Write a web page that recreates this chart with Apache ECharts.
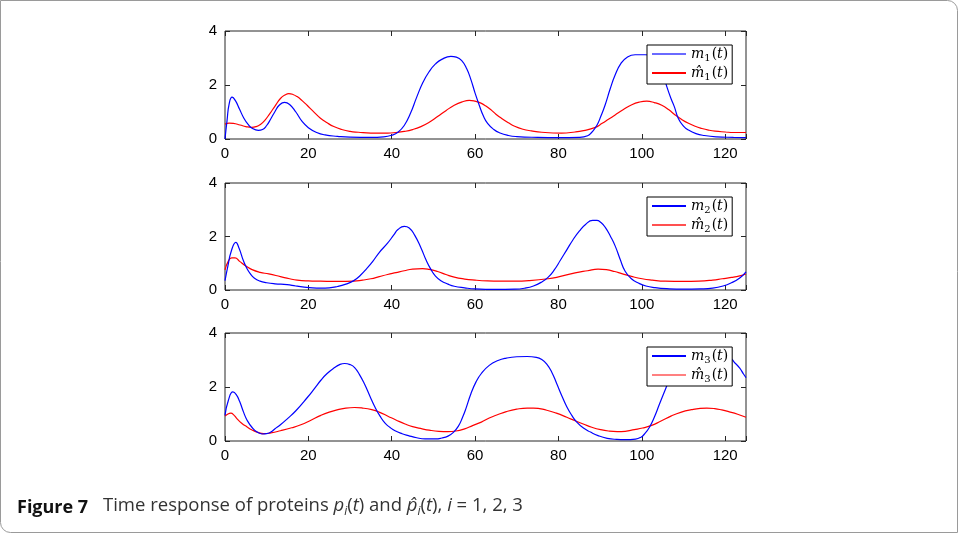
<!DOCTYPE html>
<html><head><meta charset="utf-8">
<script src="https://cdn.jsdelivr.net/npm/echarts@6/dist/echarts.min.js"></script>
<style>html,body{margin:0;padding:0;background:#fff}#c{width:958px;height:533px}</style>
</head><body><div id="c"></div>
<script>
// ---------- data ----------
const xTicks = [0, 20, 40, 60, 80, 100, 120];
const yTicks = [0, 2, 4];

const t_m1 = [0,0.5,1,1.7,2.5,3.5,4.5,5.5,6.5,8,9,10,11,12,13,14.3,15.5,17,18.5,20,22,24,27,30,35,38,40,41.5,43,44.5,46,47.5,49,50.5,52,54.2,55.5,56.8,58,59,60,61,62,63,64.5,66,68,70,75,80,85,87,88,89.2,90.2,91.2,92.4,93.6,95,96.5,98.4,100.8,102.5,103.8,105,106,107,107.8,108.8,110,111.2,113,115,118,122,125];
const m1   = [0,0.7,1.3,1.55,1.42,1.1,0.78,0.55,0.4,0.32,0.35,0.5,0.75,1.02,1.25,1.36,1.28,1.0,0.65,0.42,0.24,0.15,0.1,0.07,0.06,0.08,0.14,0.25,0.5,0.95,1.55,2.1,2.5,2.78,2.95,3.06,3.03,2.9,2.6,2.2,1.7,1.25,0.85,0.58,0.35,0.22,0.13,0.09,0.06,0.05,0.06,0.12,0.25,0.5,0.85,1.26,1.85,2.37,2.8,3.03,3.12,3.12,3.08,2.9,2.45,1.94,1.5,1.2,0.75,0.48,0.33,0.2,0.13,0.08,0.06,0.05];

const t_mh1 = [0,1,2,3.6,5,6.4,7.5,8.5,9.5,10.8,12,13.3,14.5,15.3,16.3,17.3,18.5,19.7,21,22.9,24.5,26.1,28,30,32,35,39,41,43,45,47,49,51,53,55,57,58.6,60,61.4,62.6,63.9,65,66.3,68,69.5,71.5,73.5,76,80.7,84,86,88.7,90.5,92,93.6,95.5,97.6,99.5,101.2,103,104.8,106.5,108,109.5,111.2,112.8,114.4,116,117.6,120,122,125];
const mh1   = [0.55,0.59,0.58,0.52,0.46,0.43,0.46,0.54,0.68,0.95,1.22,1.5,1.64,1.68,1.65,1.57,1.42,1.25,1.05,0.77,0.6,0.46,0.35,0.28,0.25,0.22,0.22,0.24,0.28,0.35,0.46,0.62,0.83,1.05,1.25,1.38,1.43,1.4,1.33,1.22,1.07,0.92,0.77,0.6,0.47,0.36,0.3,0.25,0.22,0.26,0.31,0.42,0.58,0.73,0.89,1.08,1.27,1.37,1.4,1.35,1.25,1.08,0.89,0.73,0.58,0.47,0.39,0.33,0.29,0.26,0.24,0.24];

const t_m2 = [0,0.7,1.5,2.6,3.4,4.4,5.2,6,7,8.4,10,12,14.9,17,19,21,23,25,27,29,30.9,32.5,34,35.5,37,39,40.5,41.5,43,44.2,45.5,47,48.3,49.4,50.5,51.8,53.5,55,57.5,60,65,69.5,72,74,76,77.5,79,80.5,82,83.5,85,86.5,88.2,89.2,90.2,91.2,92.5,93.6,94.8,96,97.5,99.3,101,103.2,106,110,114,117,119.5,121.5,123.5,125];
const m2   = [0.35,0.9,1.45,1.78,1.55,1.1,0.82,0.62,0.45,0.33,0.27,0.23,0.2,0.15,0.11,0.08,0.07,0.08,0.13,0.22,0.35,0.55,0.8,1.08,1.4,1.75,2.06,2.26,2.38,2.32,2.05,1.58,1.1,0.77,0.52,0.35,0.22,0.14,0.08,0.04,0.02,0.03,0.07,0.15,0.3,0.47,0.75,1.12,1.5,1.88,2.2,2.45,2.6,2.6,2.52,2.35,2.0,1.65,1.15,0.7,0.42,0.25,0.15,0.09,0.05,0.03,0.04,0.07,0.15,0.27,0.45,0.68];

const t_mh2 = [0,0.8,1.6,2.4,3.5,5.2,6.5,8.4,10.5,13.3,15.5,17.3,20,22.9,27,30.9,33,35,37,39,41,43,45,47.4,49,51,53,55,57.5,60,63,66,69.5,73,77.5,80,84,87,89.5,91.5,93.5,95.2,97.5,100.1,102.5,105.6,110,113.7,117,119.3,121.5,123.5,125];
const mh2   = [0.75,1.08,1.2,1.2,1.07,0.88,0.76,0.66,0.6,0.5,0.42,0.37,0.34,0.33,0.32,0.33,0.37,0.42,0.5,0.58,0.65,0.72,0.78,0.8,0.77,0.69,0.58,0.48,0.41,0.37,0.34,0.33,0.33,0.35,0.42,0.49,0.64,0.72,0.78,0.76,0.69,0.61,0.51,0.42,0.37,0.33,0.32,0.33,0.37,0.42,0.47,0.53,0.6];

const t_m3 = [0,0.8,1.9,2.7,3.5,4.5,5.3,6.5,7.7,9,10,11,12,13.3,15,17,19.8,21.5,23,24.5,26.3,27.5,28.7,30,31.1,32.3,33.5,34.8,36,37.2,38.4,39.6,40.8,42.5,44,46,48,50.5,52,53.5,54.8,56,57,57.8,59,60.2,61.5,63.4,65.5,67.5,70,72.5,74.7,76,77.2,78.4,79.6,80.8,82,83.2,84.4,86,87.7,89.5,91.7,94,96,98.5,99.8,100.6,101.8,103,104.2,105.5,106.7,108,110,112.5,115,118,120.8,122.4,123.5,124.4,125];
const m3   = [0.95,1.5,1.82,1.72,1.47,1.05,0.77,0.5,0.33,0.26,0.27,0.33,0.45,0.6,0.83,1.12,1.62,1.95,2.25,2.5,2.72,2.83,2.87,2.83,2.72,2.45,2.1,1.65,1.25,0.92,0.66,0.5,0.38,0.27,0.2,0.12,0.08,0.08,0.11,0.18,0.32,0.55,0.88,1.2,1.75,2.18,2.5,2.8,2.98,3.07,3.12,3.13,3.1,3.02,2.85,2.55,2.12,1.68,1.27,0.95,0.7,0.48,0.33,0.2,0.1,0.06,0.05,0.07,0.14,0.25,0.5,0.88,1.35,1.85,2.3,2.65,2.92,3.06,3.11,3.12,3.1,2.88,2.7,2.48,2.35];

const t_mh3 = [0,0.7,1.4,2.2,2.8,4,5.3,6.5,7.7,9.3,11,13.3,16,18.2,20.5,23,25,27.1,29,31.1,33,35.2,37,39.2,41,43.2,45,47.3,49,51.3,53.5,55.4,57.5,59.4,61.5,63.4,65.5,67.5,70,72.5,74,77.2,79.5,82,84,86.1,88,90.1,92,94.1,96,98.2,100.2,102.2,104.5,107.1,109.5,111.9,114,115.6,117.5,119.2,121,123,125];
const mh3   = [0.92,1.0,1.03,0.95,0.84,0.66,0.52,0.41,0.33,0.27,0.3,0.38,0.49,0.6,0.76,0.95,1.07,1.16,1.22,1.24,1.22,1.16,1.07,0.91,0.78,0.63,0.53,0.45,0.4,0.36,0.35,0.37,0.45,0.57,0.7,0.85,0.98,1.09,1.18,1.22,1.22,1.14,1.03,0.88,0.75,0.62,0.51,0.42,0.37,0.35,0.36,0.42,0.48,0.57,0.73,0.93,1.07,1.16,1.21,1.22,1.2,1.15,1.08,0.99,0.88];

const panels = [
  {blue: [t_m1, m1], red: [t_mh1, mh1], idx: '1', legBlue: '#6a6aff', legRed: '#ff0000'},
  {blue: [t_m2, m2], red: [t_mh2, mh2], idx: '2', legBlue: '#0000ff', legRed: '#ff5050'},
  {blue: [t_m3, m3], red: [t_mh3, mh3], idx: '3', legBlue: '#0000ff', legRed: '#ff8080'}
];

// ---------- layout ----------
const gridTops = [31, 183, 333];
const gridH = [108, 107, 108];
const gLeft = 225, gWidth = 521;
const axisColor = '#262626';
const labelFont = 'Liberation Sans';
const mathFont = 'DejaVu Serif';

const zip = (a, b) => a.map((v, i) => [v, b[i]]);

const grid = [], xAxis = [], yAxis = [], series = [], legend = [];
panels.forEach((p, k) => {
  grid.push({left: gLeft, width: gWidth, top: gridTops[k], height: gridH[k],
    show: true, borderColor: axisColor, borderWidth: 1, backgroundColor: '#fff'});
  const tick = {show: true, inside: true, length: 5, lineStyle: {color: axisColor}};
  const common = {type: 'value', gridIndex: k, min: 0, max: 125, interval: 20,
    axisLine: {show: false, onZero: false}, splitLine: {show: false}, axisTick: tick};
  xAxis.push(Object.assign({}, common, {position: 'bottom',
    axisLabel: {show: true, color: '#000', fontFamily: labelFont, fontSize: 15, margin: 7,
      formatter: v => xTicks.includes(v) ? String(v) : ''}}));
  xAxis.push(Object.assign({}, common, {position: 'top', axisLabel: {show: false}}));
  const ycommon = {type: 'value', gridIndex: k, min: 0, max: 4, interval: 2,
    axisLine: {show: false, onZero: false}, splitLine: {show: false}, axisTick: tick};
  yAxis.push(Object.assign({}, ycommon, {position: 'left',
    axisLabel: {show: true, color: '#000', fontFamily: labelFont, fontSize: 15, margin: 8,
      formatter: v => yTicks.includes(v) ? String(v) : ''}}));
  yAxis.push(Object.assign({}, ycommon, {position: 'right', axisLabel: {show: false}}));

  const nb = 'm' + p.idx, nr = 'mh' + p.idx;
  series.push({name: nb, type: 'line', xAxisIndex: 2 * k, yAxisIndex: 2 * k,
    data: zip(p.blue[0], p.blue[1]), showSymbol: false, smooth: 0.5,
    lineStyle: {color: '#0000ff', width: 1.2}, itemStyle: {color: p.legBlue}, z: 3});
  series.push({name: nr, type: 'line', xAxisIndex: 2 * k, yAxisIndex: 2 * k,
    data: zip(p.red[0], p.red[1]), showSymbol: false, smooth: 0.5,
    lineStyle: {color: '#ff0000', width: 1.2}, itemStyle: {color: p.legRed}, z: 2});

  legend.push({data: [nb, nr], orient: 'vertical', left: 647, top: gridTops[k] + 14,
    backgroundColor: '#fff', borderColor: '#000', borderWidth: 1, padding: [2, 4, 2, 5],
    itemGap: 3, itemWidth: 34, itemHeight: 2, icon: 'rect', z: 10,
    formatter: n => {
      const hat = n.startsWith('mh');
      return (hat ? '{m|m\u0302}' : '{m|m}') + '{s|' + n.slice(-1) + '}{p|(}{m|t}{p|)}';
    },
    textStyle: {color: '#000', rich: {
      m: {fontFamily: mathFont, fontStyle: 'italic', fontSize: 14, lineHeight: 18},
      p: {fontFamily: mathFont, fontSize: 14, lineHeight: 18},
      s: {fontFamily: mathFont, fontSize: 10, lineHeight: 18, verticalAlign: 'bottom', padding: [0, 1, 0, 0]}
    }}});
});

const chart = echarts.init(document.getElementById('c'), null, {renderer: 'canvas'});
chart.setOption({
  animation: false,
  backgroundColor: '#fff',
  grid, xAxis, yAxis, series, legend,
  graphic: [
    {type: 'rect', shape: {x: 0.5, y: 0.5, width: 957, height: 532, r: [0, 10, 0, 10]},
      style: {fill: 'none', stroke: '#9a9a9a', lineWidth: 1}, z: -1, silent: true},
    {type: 'text', left: 17, top: 496, style: {
      text: 'Figure 7', fontFamily: 'Open Sans', fontWeight: 'bold', fontSize: 18, fill: '#111', lineHeight: 24}},
    {type: 'text', left: 103, top: 496, style: {
      text: '{r|Time response of proteins }{i|p}{sub|i}{r|(}{i|t}{r|) and }{i|p\u0302}{sub|i}{r|(}{i|t}{r|), }{i|i}{r| = 1, 2, 3}',
      rich: {
        r: {fontFamily: 'Open Sans', fontSize: 18.5, fill: '#333', lineHeight: 24},
        i: {fontFamily: 'Open Sans', fontStyle: 'italic', fontSize: 18.5, fill: '#333', lineHeight: 24},
        sub: {fontFamily: 'Open Sans', fontStyle: 'italic', fontSize: 12, fill: '#333', lineHeight: 24, verticalAlign: 'bottom'}
      }}}
  ]
});
</script></body></html>
